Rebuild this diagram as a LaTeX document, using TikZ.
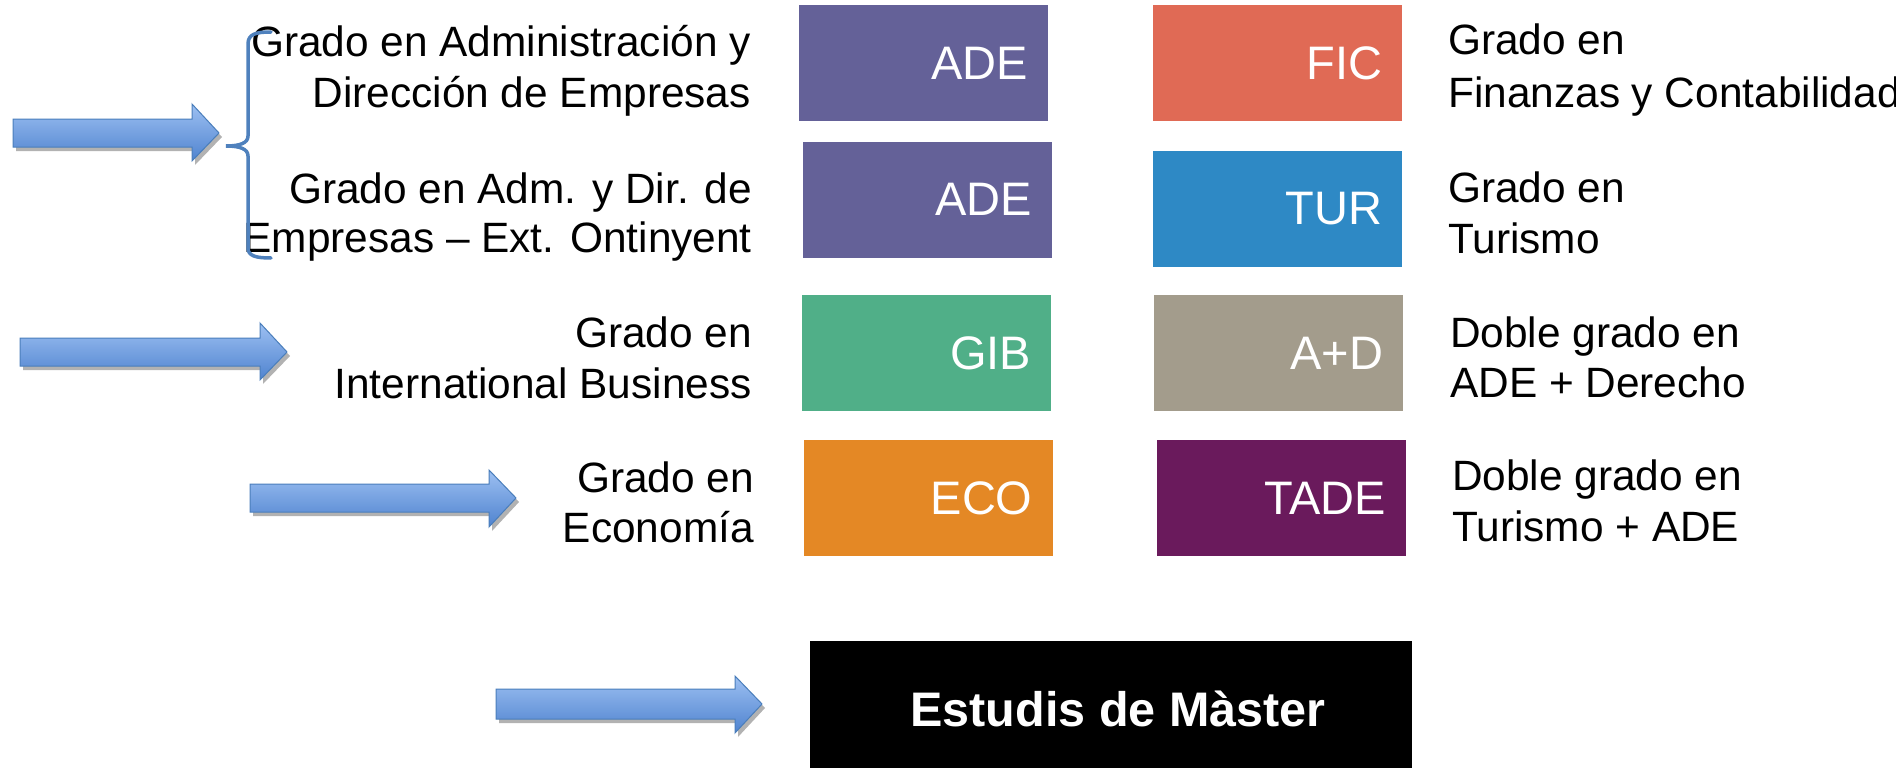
\documentclass[tikz,border=0pt]{standalone}
\usepackage{fontspec}
\setmainfont{Liberation Sans}
\usetikzlibrary{shadings,shadows}
\definecolor{adecol}{HTML}{646198}
\definecolor{ficcol}{HTML}{E06A55}
\definecolor{turcol}{HTML}{2E89C5}
\definecolor{gibcol}{HTML}{50AF88}
\definecolor{adcol}{HTML}{A39C8C}
\definecolor{ecocol}{HTML}{E48825}
\definecolor{tadecol}{HTML}{6A1A5C}
\definecolor{arrowtop}{HTML}{9DC0F2}
\definecolor{arrowbot}{HTML}{4F83CF}
\definecolor{arrowline}{HTML}{4A7EBB}
\definecolor{bracecol}{HTML}{4F81BD}
\begin{document}
\begin{tikzpicture}[x=1pt,y=-1pt,
  gbox/.style={minimum width=249pt, minimum height=116pt, text width=209pt,
    inner xsep=20pt, inner ysep=0pt, align=right, text=white,
    font=\fontsize{47}{56}\selectfont},
  ltxt/.style={font=\fontsize{42.4}{50}\selectfont, inner sep=0pt, anchor=base east},
  rtxt/.style={font=\fontsize{42.4}{50}\selectfont, inner sep=0pt, anchor=base west},
  blockarrow/.style={draw=arrowline, line width=1pt, top color=arrowtop, bottom color=arrowbot,
    drop shadow={shadow xshift=3pt, shadow yshift=-4pt, opacity=0.3, fill=black}},
  bracestyle/.style={draw=bracecol, line width=3.5pt, line cap=round}
]
\useasboundingbox (0,0) rectangle (1896,768);

% coloured boxes
\node[gbox, fill=adecol]  (ade1) at (923.5,63)   {ADE};
\node[gbox, fill=ficcol]  (fic)  at (1277.5,63)  {FIC};
\node[gbox, fill=adecol]  (ade2) at (927.5,199.5){ADE};
\node[gbox, fill=turcol]  (tur)  at (1277.5,208.5){TUR};
\node[gbox, fill=gibcol]  (gib)  at (926.5,353)  {GIB};
\node[gbox, fill=adcol]   (ad)   at (1278.5,353) {A+D};
\node[gbox, fill=ecocol]  (eco)  at (928,498)    {ECO};
\node[gbox, fill=tadecol] (tade) at (1281.5,498) {TADE};

% master box
\node[fill=black, minimum width=602pt, minimum height=136pt] (master) at (1111,709) {};
\node[text=white, inner sep=0pt, font=\fontsize{48.5}{58}\selectfont\bfseries]
  (mastertxt) at (1118,709) {Estudis de Màster};

% left texts
\node[ltxt] (t1a) at (751,57)  {Grado en Administración y};
\node[ltxt] (t1b) at (751,107) {Dirección de Empresas};
\node[ltxt] (t2a) at (752,203) {Grado en Adm. y Dir. de};
\node[ltxt] (t2b) at (752,252) {Empresas – Ext. Ontinyent};
\node[ltxt] (t3a) at (752,347) {Grado en};
\node[ltxt] (t3b) at (752,398) {International Business};
\node[ltxt] (t4a) at (754,492) {Grado en};
\node[ltxt] (t4b) at (754,542) {Economía};

% right texts
\node[rtxt] (r1a) at (1448,55)  {Grado en};
\node[rtxt] (r1b) at (1448,107) {Finanzas y Contabilidad};
\node[rtxt] (r2a) at (1448,202) {Grado en};
\node[rtxt] (r2b) at (1448,253) {Turismo};
\node[rtxt] (r3a) at (1450,347) {Doble grado en};
\node[rtxt] (r3b) at (1450,397) {ADE + Derecho};
\node[rtxt] (r4a) at (1452,490) {Doble grado en};
\node[rtxt] (r4b) at (1452,541) {Turismo + ADE};

% brace
\draw[bracestyle] (271,32) .. controls (256,32) and (248,34) .. (248,44) -- (248,136)
  .. controls (248,143) and (240,146) .. (226,146)
  .. controls (240,146) and (248,149) .. (248,156) -- (248,248)
  .. controls (248,256) and (256,258) .. (271,258);

% block arrows
\path[blockarrow] (13,119) -- (192,119) -- (192,104) -- (219,133) -- (192,161) -- (192,147) -- (13,147) -- cycle;
\path[blockarrow] (20,338) -- (260,338) -- (260,323) -- (287,352) -- (260,380) -- (260,366) -- (20,366) -- cycle;
\path[blockarrow] (250,484) -- (489,484) -- (489,470) -- (516,498) -- (489,527) -- (489,512) -- (250,512) -- cycle;
\path[blockarrow] (496,689) -- (735,689) -- (735,676) -- (762,704) -- (735,733) -- (735,719) -- (496,719) -- cycle;
\end{tikzpicture}
\end{document}
